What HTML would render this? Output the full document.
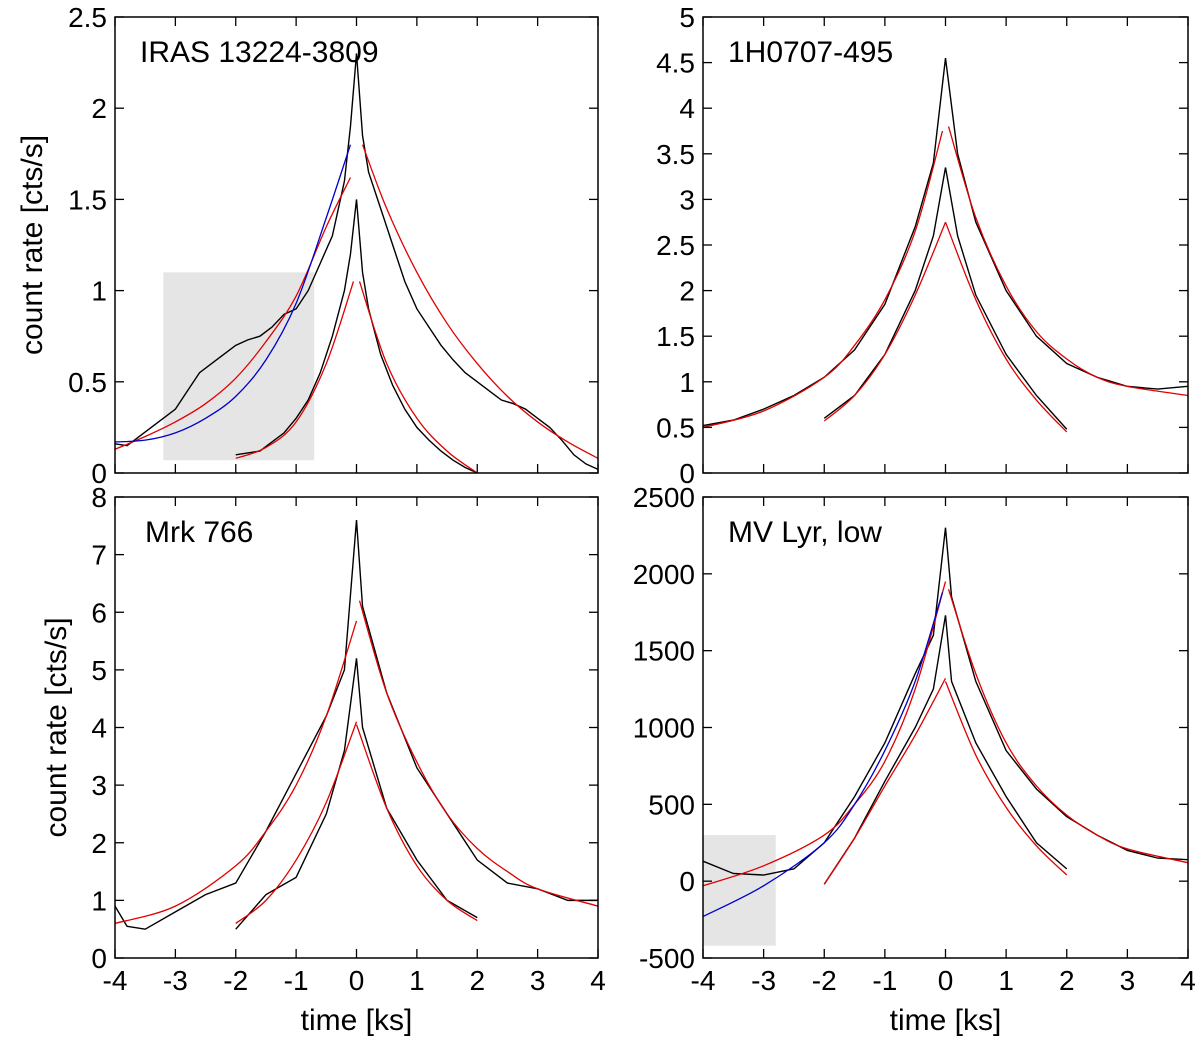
<!DOCTYPE html>
<html><head><meta charset="utf-8"><style>
body{margin:0;background:#fff}
svg{display:block;font-family:"Liberation Sans",sans-serif}
</style></head><body>
<svg id="chart" width="1200" height="1043"></svg>
<script>
// ---- data (t in ks, rate) ----
const tl_outer = [[-4,0.16],[-3.8,0.15],[-3.6,0.2],[-3.4,0.25],[-3.2,0.3],[-3.0,0.35],[-2.8,0.45],[-2.6,0.55],[-2.4,0.6],[-2.2,0.65],[-2.0,0.7],[-1.8,0.73],[-1.6,0.75],[-1.4,0.8],[-1.2,0.87],[-1.0,0.9],[-0.8,1.0],[-0.6,1.15],[-0.4,1.3],[-0.2,1.6],[-0.1,1.9],[0,2.3],[0.1,1.85],[0.2,1.65],[0.4,1.45],[0.6,1.25],[0.8,1.05],[1.0,0.9],[1.2,0.8],[1.4,0.7],[1.6,0.62],[1.8,0.55],[2.0,0.5],[2.2,0.45],[2.4,0.4],[2.6,0.38],[2.8,0.35],[3.0,0.3],[3.2,0.25],[3.4,0.18],[3.6,0.1],[3.8,0.05],[4,0.02]];
const tl_inner = [[-2,0.1],[-1.8,0.11],[-1.6,0.12],[-1.4,0.17],[-1.2,0.22],[-1.0,0.3],[-0.8,0.4],[-0.6,0.55],[-0.4,0.75],[-0.2,1.0],[-0.1,1.2],[0,1.5],[0.1,1.1],[0.2,0.9],[0.4,0.65],[0.6,0.48],[0.8,0.35],[1.0,0.25],[1.2,0.18],[1.4,0.12],[1.6,0.07],[1.8,0.03],[2.0,0.0]];
const tl_fitOuterL = [[-4,0.13],[-3.5,0.2],[-3,0.28],[-2.5,0.38],[-2,0.52],[-1.5,0.72],[-1,0.97],[-0.5,1.35],[-0.1,1.62]];
const tl_fitOuterR = [[0.1,1.8],[0.5,1.45],[1,1.1],[1.5,0.82],[2,0.6],[2.5,0.42],[3,0.28],[3.5,0.17],[4,0.08]];
const tl_fitInnerL = [[-2,0.08],[-1.5,0.14],[-1,0.28],[-0.5,0.6],[-0.05,1.05]];
const tl_fitInnerR = [[0.05,1.05],[0.5,0.6],[1,0.3],[1.5,0.12],[2,0.0]];
const tl_blue = [[-4,0.17],[-3.5,0.18],[-3,0.22],[-2.5,0.3],[-2,0.42],[-1.5,0.62],[-1,0.93],[-0.5,1.4],[-0.1,1.8]];

const tr_outer = [[-4,0.52],[-3.5,0.58],[-3,0.7],[-2.5,0.85],[-2,1.05],[-1.5,1.35],[-1,1.85],[-0.5,2.7],[-0.2,3.4],[0,4.55],[0.2,3.5],[0.5,2.75],[1,2.0],[1.5,1.5],[2,1.2],[2.5,1.05],[3,0.95],[3.5,0.92],[4,0.95]];
const tr_inner = [[-2,0.6],[-1.5,0.85],[-1,1.3],[-0.5,2.0],[-0.2,2.6],[0,3.35],[0.2,2.6],[0.5,1.95],[1,1.3],[1.5,0.85],[2,0.48]];
const tr_fitOuterL = [[-4,0.5],[-3,0.68],[-2,1.05],[-1.5,1.4],[-1,1.9],[-0.5,2.65],[-0.05,3.75]];
const tr_fitOuterR = [[0.05,3.8],[0.5,2.8],[1,2.05],[1.5,1.55],[2,1.25],[2.5,1.05],[3,0.95],[4,0.85]];
const tr_fitInnerL = [[-2,0.57],[-1.5,0.85],[-1,1.3],[-0.5,1.95],[0,2.75]];
const tr_fitInnerR = [[0,2.75],[0.5,1.9],[1,1.25],[1.5,0.8],[2,0.45]];

const bl_outer = [[-4,0.9],[-3.8,0.55],[-3.5,0.5],[-3,0.8],[-2.5,1.1],[-2,1.3],[-1.5,2.2],[-1.2,2.8],[-1,3.2],[-0.5,4.2],[-0.2,5.0],[0,7.6],[0.1,6.1],[0.5,4.6],[1,3.3],[1.5,2.5],[2,1.7],[2.5,1.3],[3,1.2],[3.5,1.0],[4,1.0]];
const bl_inner = [[-2,0.5],[-1.5,1.1],[-1,1.4],[-0.5,2.5],[-0.2,3.6],[0,5.2],[0.1,4.0],[0.5,2.6],[1,1.7],[1.5,1.0],[2,0.7]];
const bl_fitOuterL = [[-4,0.6],[-3,0.9],[-2,1.6],[-1.5,2.2],[-1,3.0],[-0.5,4.2],[0,5.85]];
const bl_fitOuterR = [[0.05,6.2],[0.5,4.6],[1,3.4],[1.5,2.5],[2,1.9],[2.5,1.5],[3,1.2],[4,0.9]];
const bl_fitInnerL = [[-2,0.6],[-1.5,1.0],[-1,1.7],[-0.5,2.7],[0,4.1]];
const bl_fitInnerR = [[0,4.05],[0.5,2.6],[1,1.6],[1.5,1.0],[2,0.65]];

const br_outer = [[-4,130],[-3.5,50],[-3,40],[-2.5,80],[-2,250],[-1.5,550],[-1,900],[-0.5,1350],[-0.2,1600],[0,2300],[0.1,1850],[0.5,1300],[1,850],[1.5,600],[2,420],[2.5,300],[3,200],[3.5,150],[4,140]];
const br_inner = [[-2,-20],[-1.5,280],[-1,650],[-0.5,1000],[-0.2,1250],[0,1730],[0.1,1300],[0.5,900],[1,550],[1.5,250],[2,80]];
const br_fitOuterL = [[-4,-30],[-3,100],[-2,300],[-1.5,500],[-1,780],[-0.5,1250],[0,1950]];
const br_fitOuterR = [[0.05,1900],[0.5,1350],[1,900],[1.5,620],[2,430],[2.5,300],[3,210],[4,120]];
const br_fitInnerL = [[-2,-20],[-1.5,280],[-1,620],[-0.5,950],[0,1320]];
const br_fitInnerR = [[0,1300],[0.5,820],[1,480],[1.5,230],[2,40]];
const br_blue = [[-4,-230],[-3,-30],[-2,250],[-1.5,500],[-1,850],[-0.5,1300],[-0.05,1880]];

const xTicks = [-4,-3,-2,-1,0,1,2,3,4];
const tlTicks = ["0","0.5","1","1.5","2","2.5"];
const trTicks = ["0","0.5","1","1.5","2","2.5","3","3.5","4","4.5","5"];
const blTicks = ["0","1","2","3","4","5","6","7","8"];
const brTicks = ["-500","0","500","1000","1500","2000","2500"];

const NS="http://www.w3.org/2000/svg";
const svg=document.getElementById('chart');
function mk(tag,attrs,parent){const e=document.createElementNS(NS,tag);for(const k in attrs)e.setAttribute(k,attrs[k]);(parent||svg).appendChild(e);return e;}

function smooth(pts){
  let d="M"+pts[0][0]+","+pts[0][1];
  for(let i=0;i<pts.length-1;i++){
    const p0=pts[i-1]||pts[i],p1=pts[i],p2=pts[i+1],p3=pts[i+2]||p2;
    const c1=[p1[0]+(p2[0]-p0[0])/6,p1[1]+(p2[1]-p0[1])/6];
    const c2=[p2[0]-(p3[0]-p1[0])/6,p2[1]-(p3[1]-p1[1])/6];
    d+=" C"+c1+" "+c2+" "+p2;
  }
  return d;
}

function panel(cfg){
  const g=mk('g',{});
  
  
  const {x0,x1,y0,y1,ymin,ymax}=cfg;
  const X=t=>x0+(t+4)/8*(x1-x0);
  const Y=v=>y1-(v-ymin)/(ymax-ymin)*(y1-y0);
  if(cfg.box){
    const r=mk('rect',{x:X(cfg.box[0]),y:Y(cfg.box[3]),width:X(cfg.box[1])-X(cfg.box[0]),height:Y(cfg.box[2])-Y(cfg.box[3]),fill:'#e5e5e5'},g);
    
    
  }
  const series=[[cfg.outer,'#000','black-outer'],[cfg.inner,'#000','black-inner']];
  for(const [d,c,n] of series){
    const p=mk('polyline',{points:d.map(q=>X(q[0])+","+Y(q[1])).join(" "),fill:'none',stroke:c,'stroke-width':1.4},g);
    
    
  }
  for(const [d,c,n] of cfg.fits){
    const p=mk('path',{d:smooth(d.map(q=>[X(q[0]),Y(q[1])])),fill:'none',stroke:c,'stroke-width':1.3},g);
    
    
  }
  const f=mk('rect',{x:x0,y:y0,width:x1-x0,height:y1-y0,fill:'none',stroke:'#000','stroke-width':1.5},g);
  
  
  cfg.yticks.forEach((lab,i)=>{
    const v=ymin+i*(ymax-ymin)/(cfg.yticks.length-1);const y=Y(v);
    mk('line',{x1:x0,x2:x0+9,y1:y,y2:y,stroke:'#000','stroke-width':1.3},g);
    mk('line',{x1:x1,x2:x1-9,y1:y,y2:y,stroke:'#000','stroke-width':1.3},g);
    const t=mk('text',{x:x0-8,y:y+10,'text-anchor':'end','font-size':28},g);t.textContent=lab;
    
    
  });
  xTicks.forEach(v=>{
    const x=X(v);
    mk('line',{x1:x,x2:x,y1:y1,y2:y1-9,stroke:'#000','stroke-width':1.3},g);
    mk('line',{x1:x,x2:x,y1:y0,y2:y0+9,stroke:'#000','stroke-width':1.3},g);
    if(cfg.xlabels){const t=mk('text',{x:x,y:y1+32,'text-anchor':'middle','font-size':28},g);t.textContent=String(v);
      
      }
  });
  const tt=mk('text',{x:x0+cfg.titleDx,y:y0+45,'font-size':30},g);tt.textContent=cfg.title;
  
  
  if(cfg.xlabels){const t=mk('text',{x:(x0+x1)/2,y:1030,'text-anchor':'middle','font-size':30},g);t.textContent='time [ks]';
    
    }
  if(cfg.ylab){const t=mk('text',{x:0,y:0,'text-anchor':'middle','font-size':30,transform:`translate(${cfg.ylab},${(y0+y1)/2}) rotate(-90)`},g);t.textContent='count rate [cts/s]';
    
    }
}
const R='#e00000',B='#0000cc';
panel({name:'panel-iras',x0:115,x1:598,y0:17,y1:473,ymin:0,ymax:2.5,yticks:tlTicks,outer:tl_outer,inner:tl_inner,
  fits:[[tl_fitOuterL,R,'fit-outer-rise'],[tl_fitOuterR,R,'fit-outer-decay'],[tl_fitInnerL,R,'fit-inner-rise'],[tl_fitInnerR,R,'fit-inner-decay'],[tl_blue,B,'blue-fit']],
  box:[-3.2,-0.7,0.07,1.1],title:'IRAS 13224-3809',titleDx:25,ylab:42,xlabels:false});
panel({name:'panel-1h0707',x0:703,x1:1188,y0:17,y1:473,ymin:0,ymax:5,yticks:trTicks,outer:tr_outer,inner:tr_inner,
  fits:[[tr_fitOuterL,R,'fit-outer-rise'],[tr_fitOuterR,R,'fit-outer-decay'],[tr_fitInnerL,R,'fit-inner-rise'],[tr_fitInnerR,R,'fit-inner-decay']],
  title:'1H0707-495',titleDx:25,xlabels:false});
panel({name:'panel-mrk766',x0:115,x1:598,y0:497,y1:958,ymin:0,ymax:8,yticks:blTicks,outer:bl_outer,inner:bl_inner,
  fits:[[bl_fitOuterL,R,'fit-outer-rise'],[bl_fitOuterR,R,'fit-outer-decay'],[bl_fitInnerL,R,'fit-inner-rise'],[bl_fitInnerR,R,'fit-inner-decay']],
  title:'Mrk 766',titleDx:30,ylab:66,xlabels:true});
panel({name:'panel-mvlyr',x0:703,x1:1188,y0:497,y1:958,ymin:-500,ymax:2500,yticks:brTicks,outer:br_outer,inner:br_inner,
  fits:[[br_fitOuterL,R,'fit-outer-rise'],[br_fitOuterR,R,'fit-outer-decay'],[br_fitInnerL,R,'fit-inner-rise'],[br_fitInnerR,R,'fit-inner-decay'],[br_blue,B,'blue-fit']],
  box:[-4,-2.8,-420,300],title:'MV Lyr, low',titleDx:25,xlabels:true});
</script>
</body></html>
